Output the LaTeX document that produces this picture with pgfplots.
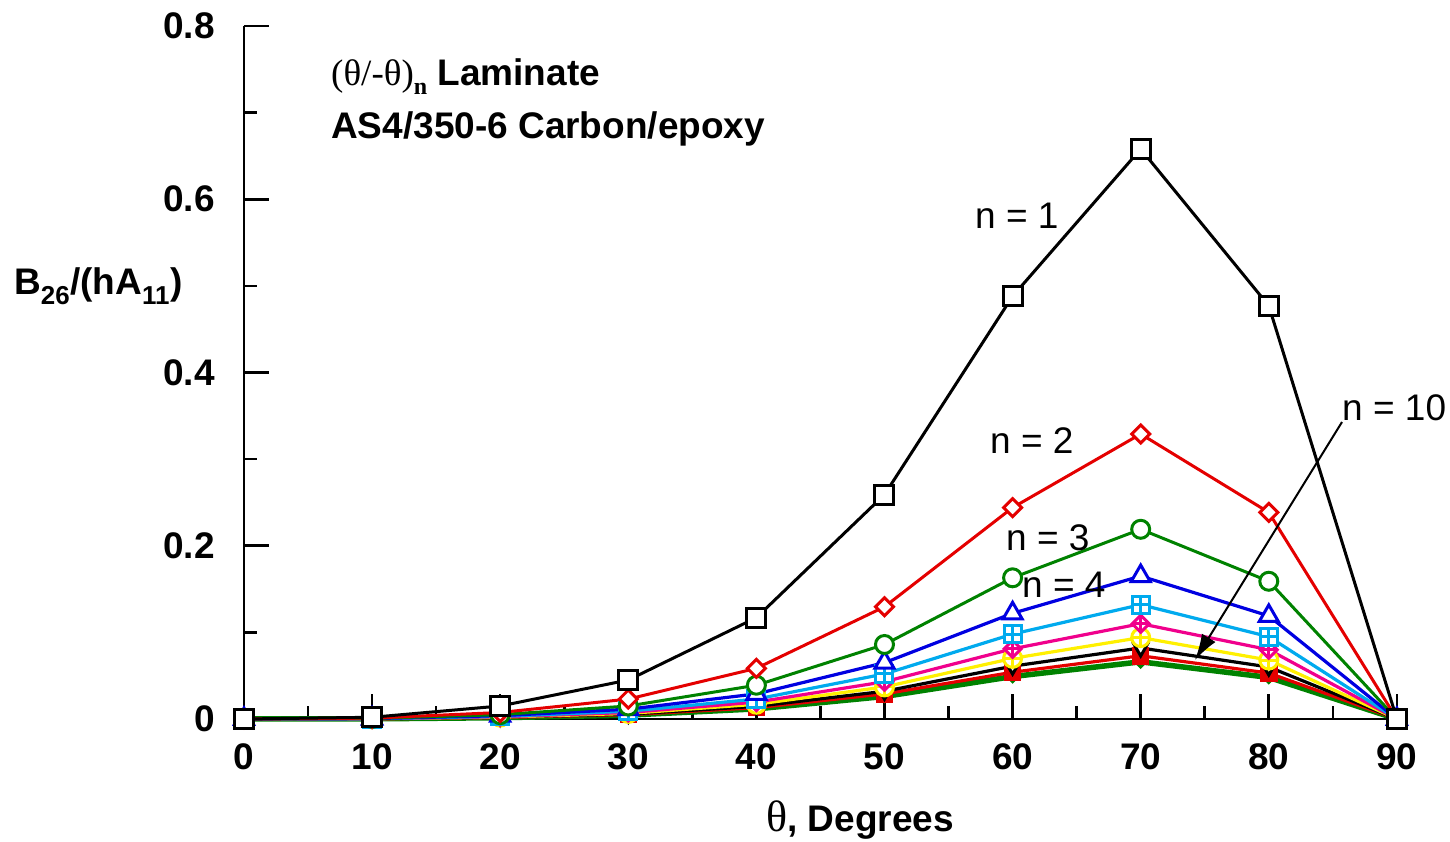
\documentclass[border=0pt]{standalone}
\usepackage{fontspec}
\setmainfont{Liberation Sans}
\newfontfamily\serif{Liberation Serif}
\usepackage{pgfplots}
\usepackage{pgfplotstable}
\usetikzlibrary{arrows.meta}
\pgfplotsset{compat=1.18}
\definecolor{cred}{RGB}{228,0,0}
\definecolor{cgreen}{RGB}{0,130,0}
\definecolor{cblue}{RGB}{0,0,225}
\definecolor{ccyan}{RGB}{0,170,238}
\definecolor{cpink}{RGB}{240,0,140}
\definecolor{cyellow}{RGB}{255,240,0}

\pgfdeclareplotmark{rdiamond}{%
 \pgfpathmoveto{\pgfqpoint{0pt}{\pgfplotmarksize}}%
 \pgfpathlineto{\pgfqpoint{\pgfplotmarksize}{0pt}}%
 \pgfpathlineto{\pgfqpoint{0pt}{-\pgfplotmarksize}}%
 \pgfpathlineto{\pgfqpoint{-\pgfplotmarksize}{0pt}}%
 \pgfpathclose\pgfusepathqfillstroke}
\pgfdeclareplotmark{diamondplus}{%
 \pgfpathmoveto{\pgfqpoint{0pt}{\pgfplotmarksize}}%
 \pgfpathlineto{\pgfqpoint{\pgfplotmarksize}{0pt}}%
 \pgfpathlineto{\pgfqpoint{0pt}{-\pgfplotmarksize}}%
 \pgfpathlineto{\pgfqpoint{-\pgfplotmarksize}{0pt}}%
 \pgfpathclose\pgfusepathqfillstroke
 \pgfpathmoveto{\pgfqpoint{0pt}{\pgfplotmarksize}}%
 \pgfpathlineto{\pgfqpoint{0pt}{-\pgfplotmarksize}}%
 \pgfpathmoveto{\pgfqpoint{-\pgfplotmarksize}{0pt}}%
 \pgfpathlineto{\pgfqpoint{\pgfplotmarksize}{0pt}}%
 \pgfusepathqstroke}
\pgfdeclareplotmark{boxplus}{%
 \pgfpathrectangle{\pgfqpoint{-\pgfplotmarksize}{-\pgfplotmarksize}}{\pgfqpoint{2\pgfplotmarksize}{2\pgfplotmarksize}}%
 \pgfusepathqfillstroke
 \pgfpathmoveto{\pgfqpoint{0pt}{\pgfplotmarksize}}%
 \pgfpathlineto{\pgfqpoint{0pt}{-\pgfplotmarksize}}%
 \pgfpathmoveto{\pgfqpoint{-\pgfplotmarksize}{0pt}}%
 \pgfpathlineto{\pgfqpoint{\pgfplotmarksize}{0pt}}%
 \pgfusepathqstroke}
\pgfdeclareplotmark{circplus}{%
 \pgfpathcircle{\pgfpointorigin}{\pgfplotmarksize}%
 \pgfusepathqfillstroke
 \pgfpathmoveto{\pgfqpoint{0pt}{\pgfplotmarksize}}%
 \pgfpathlineto{\pgfqpoint{0pt}{-\pgfplotmarksize}}%
 \pgfpathmoveto{\pgfqpoint{-\pgfplotmarksize}{0pt}}%
 \pgfpathlineto{\pgfqpoint{\pgfplotmarksize}{0pt}}%
 \pgfusepathqstroke}

\pgfplotstableread{
x  n1    n2     n3     n4     n5     n6     n7     n8     n9     n10
0  0     0      0      0      0      0      0      0      0      0
10 0.002 0.001  0.0007 0.0005 0.0004 0.0003 0.0003 0.0003 0.0002 0.0002
20 0.015 0.0075 0.005  0.0038 0.003  0.0025 0.0021 0.0019 0.0017 0.0015
30 0.045 0.023  0.015  0.0113 0.009  0.0075 0.0064 0.0056 0.0050 0.0045
40 0.117 0.0585 0.039  0.029  0.023  0.0195 0.017  0.0146 0.013  0.0117
50 0.259 0.1295 0.086  0.065  0.052  0.043  0.037  0.032  0.029  0.026
60 0.488 0.244  0.163  0.122  0.098  0.081  0.070  0.061  0.054  0.049
70 0.658 0.329  0.219  0.165  0.132  0.110  0.094  0.082  0.073  0.066
80 0.477 0.2385 0.159  0.119  0.095  0.080  0.068  0.060  0.053  0.048
90 0     0      0      0      0      0      0      0      0      0
}\datatable

\begin{document}
\fontsize{37}{44}\selectfont
\begin{tikzpicture}
\useasboundingbox (-244pt,-123pt) rectangle (1206pt,719pt);
\begin{axis}[
  at={(0pt,0pt)}, anchor=south west,
  scale only axis, width=1153pt, height=693pt,
  xmin=0, xmax=90, ymin=0, ymax=0.8,
  axis x line=bottom, axis y line=left,
  axis line style={-, line width=2.8pt},
  xtick={0,10,...,90}, ytick={0,0.2,0.4,0.6,0.8},
  yticklabels={0,0.2,0.4,0.6,0.8},
  minor x tick num=1, minor y tick num=1,
  tick align=inside,
  major tick length=25pt, minor tick length=13pt,
  every tick/.style={line width=2.6pt, black},
  /pgf/number format/assume math mode=true,
  tick label style={font=\fontsize{37}{44}\selectfont\bfseries, inner sep=0pt},
  yticklabel style={anchor=east, xshift=-29pt},
  xticklabel style={anchor=north, yshift=-24pt},
  clip=false,
]
\addplot[cgreen, line width=5.5pt, mark=rdiamond, mark size=6.5pt, mark options={solid, fill=cgreen, line width=1pt}] table[x=x,y=n10]{\datatable};
\addplot[cred, line width=3.2pt, mark=square*, mark size=7.5pt, mark options={solid, fill=cred, line width=2.5pt}] table[x=x,y=n9]{\datatable};
\addplot[black, line width=3.2pt, mark=triangle*, mark size=8pt, mark options={solid, rotate=180, fill=white, line width=3pt}] table[x=x,y=n8]{\datatable};
\addplot[cyellow, line width=3.2pt, mark=circplus, mark size=9pt, mark options={solid, fill=white, line width=3pt}] table[x=x,y=n7]{\datatable};
\addplot[cpink, line width=3.2pt, mark=diamondplus, mark size=8.5pt, mark options={solid, fill=white, line width=3pt}] table[x=x,y=n6]{\datatable};
\addplot[ccyan, line width=3.2pt, mark=boxplus, mark size=8.5pt, mark options={solid, fill=white, line width=3pt}] table[x=x,y=n5]{\datatable};
\addplot[cblue, line width=3.2pt, mark=triangle*, mark size=11pt, mark options={solid, fill=white, line width=3pt}] table[x=x,y=n4]{\datatable};
\addplot[cgreen, line width=3pt, mark=*, mark size=9pt, mark options={solid, fill=white, line width=3pt}] table[x=x,y=n3]{\datatable};
\addplot[cred, line width=3pt, mark=rdiamond, mark size=9pt, mark options={solid, fill=white, line width=3pt}] table[x=x,y=n2]{\datatable};
\addplot[black, line width=3pt, mark=square*, mark size=9.5pt, mark options={solid, fill=white, line width=3pt}] table[x=x,y=n1]{\datatable};
\end{axis}
\draw[line width=2pt, -{Latex[length=26pt,width=16pt]}] (1098pt,297pt) -- (951pt,59pt);
\node[anchor=base west, inner sep=0pt] at (87pt,633pt) {{\serif(θ/-θ)\raisebox{-9pt}{\fontsize{24}{28}\selectfont\bfseries n}} \bfseries Laminate};
\node[anchor=base west, inner sep=0pt, font=\bfseries] at (87pt,580pt) {AS4/350-6 Carbon/epoxy};
\node[anchor=base west, inner sep=0pt, font=\bfseries] at (-230pt,424pt) {B\textsubscript{26}/(hA\textsubscript{11})};
\node[anchor=base west, inner sep=0pt] at (522pt,-113pt) {{\serif\fontsize{44}{50}\selectfont θ}\bfseries, Degrees};
\node[anchor=base west, inner sep=0pt] at (731pt,490pt) {n = 1};
\node[anchor=base west, inner sep=0pt] at (746pt,265pt) {n = 2};
\node[anchor=base west, inner sep=0pt] at (762pt,168pt) {n = 3};
\node[anchor=base west, inner sep=0pt] at (778pt,121pt) {n = 4};
\node[anchor=base west, inner sep=0pt] at (1098pt,298pt) {n = 10};
\end{tikzpicture}
\end{document}
